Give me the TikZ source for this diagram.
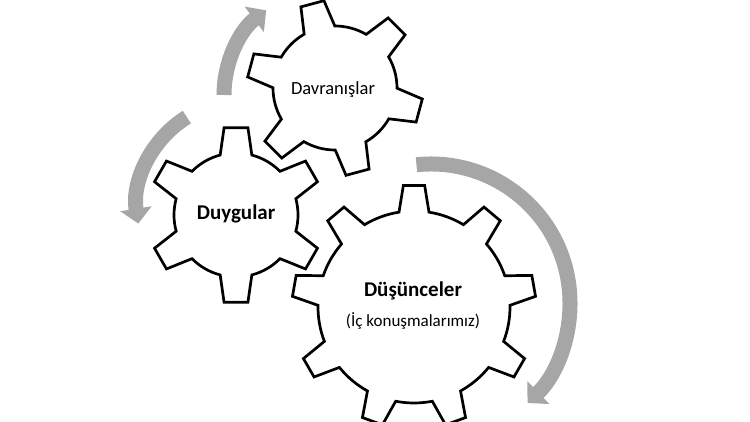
\documentclass[tikz,border=0pt]{standalone}
\usepackage{fontspec}
\setmainfont{Carlito}
\usetikzlibrary{arrows.meta}
\definecolor{arrowgray}{RGB}{166,166,166}

\begin{document}
\begin{tikzpicture}[x=1pt, y=1pt,
  gear/.style={line width=2.7pt, line join=miter, draw=black, fill=white},
  turn/.style={draw=arrowgray, line width=15pt, -{Triangle[width=31pt,length=15pt,fill=arrowgray]}},
  lbl/.style={inner sep=0pt, anchor=base, text=black}]
\useasboundingbox (0,0) rectangle (750,422);

\coordinate (davc) at (335,334);
\coordinate (duyc) at (236,207);
\coordinate (dusc) at (414,115);

% gray turning arrows
\draw[turn] (330,327) ++(180:106) arc[start angle=180, end angle=127, radius=106];
\draw[turn] (243,215) ++(122:106) arc[start angle=122, end angle=189, radius=106];
\draw[turn] (431,119) ++(96:139) arc[start angle=96, end angle=-46, radius=139];

% gears
\begin{scope}[shift={(davc)}]
\draw[gear] (45-14.8:62) \foreach \a in {45,105,...,345} {
  -- (\a-7.8:88) -- (\a+7.8:88) -- (\a+14.8:62)
  arc[start angle=\a+14.8, end angle=\a+45.2, radius=62] } -- cycle;
\end{scope}
\begin{scope}[shift={(duyc)}]
\draw[gear] (90-14.8:62) \foreach \a in {90,150,...,390} {
  -- (\a-7.8:88) -- (\a+7.8:88) -- (\a+14.8:62)
  arc[start angle=\a+14.8, end angle=\a+45.2, radius=62] } -- cycle;
\end{scope}
\begin{scope}[shift={(dusc)}]
\draw[gear] (10-9:96) \foreach \a in {10,50,...,330} {
  -- (\a-5:122) -- (\a+5:122) -- (\a+9:96)
  arc[start angle=\a+9, end angle=\a+31, radius=96] } -- cycle;
\end{scope}

% labels
\node[lbl, font=\fontsize{18.5}{22}\selectfont] (davr) at (333,327) {Davranışlar};
\node[lbl, font=\bfseries\fontsize{21}{25}\selectfont] (duyg) at (236,202) {Duygular};
\node[lbl, font=\bfseries\fontsize{21}{25}\selectfont] (dusu) at (413,125) {Düşünceler};
\node[lbl, font=\fontsize{17}{20}\selectfont] (icko) at (413,95) {(İç konuşmalarımız)};
\end{tikzpicture}
\end{document}
